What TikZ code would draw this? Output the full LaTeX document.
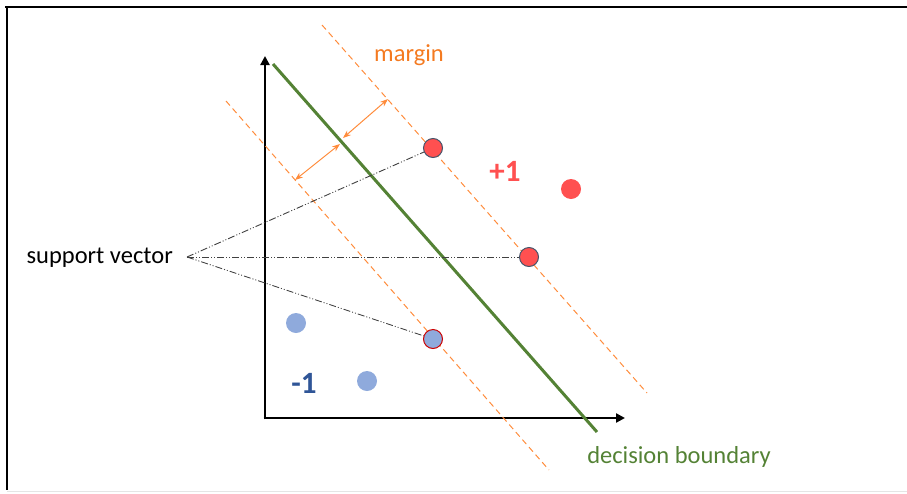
\documentclass[tikz,border=0pt]{standalone}
\usepackage{fontspec}
\setmainfont{Carlito}
\usetikzlibrary{arrows.meta}
\definecolor{redpt}{HTML}{FF5050}
\definecolor{bluept}{HTML}{8FAADC}
\definecolor{svedge}{HTML}{44546A}
\definecolor{orng}{HTML}{FF8C3C}
\definecolor{morange}{HTML}{F47A20}
\definecolor{dgreen}{HTML}{548235}
\definecolor{dblue}{HTML}{2F5597}
\begin{document}
\begin{tikzpicture}[x=1pt,y=-1pt,
  axis/.style={line width=2.6pt,-{Triangle[length=9pt,width=9pt]}},
  boundary/.style={line width=3pt,dgreen},
  marginline/.style={line width=1pt,orng,dash pattern=on 6pt off 4pt},
  marginarrow/.style={line width=1pt,orng,{Stealth[length=8pt,width=6pt]}-{Stealth[length=8pt,width=6pt]}},
  svline/.style={line width=0.9pt,black!75,dash pattern=on 7pt off 2pt on 1pt off 2pt on 1pt off 2pt},
  redsv/.style={circle,fill=redpt,draw=svedge,line width=1pt,minimum size=19pt,inner sep=0pt},
  bluesv/.style={circle,fill=bluept,draw=red!80!black,line width=1pt,minimum size=19pt,inner sep=0pt},
  redpoint/.style={circle,fill=redpt,minimum size=20pt,inner sep=0pt},
  bluepoint/.style={circle,fill=bluept,minimum size=20pt,inner sep=0pt},
  lbl/.style={font=\fontsize{24.5}{28}\selectfont,inner sep=0pt},
  classlbl/.style={font=\fontsize{31}{34}\selectfont\bfseries,inner sep=0pt}
]
\useasboundingbox (0,0) rectangle (907,493);
% frame
\draw[line width=2pt] (5,7) -- (907,7);
\draw[line width=2pt] (7,7) -- (7,490);
\draw[line width=0.8pt,black!10] (7,491.5) -- (907,491.5);

% axes
\coordinate (Ytop) at (265,56);
\coordinate (Xend) at (625,418);
\draw[axis] (265,419.3) -- (Ytop);
\draw[axis] (263.7,418) -- (Xend);

% margin lines
\coordinate (U1) at (322,25);
\coordinate (U2) at (647,393);
\coordinate (L1) at (226,101);
\coordinate (L2) at (549,470);
\draw[marginline] (U1) -- (U2);
\draw[marginline] (L1) -- (L2);

% decision boundary
\coordinate (B1) at (273,64);
\coordinate (B2) at (597,432);
\draw[boundary] (B1) -- (B2);

% margin arrows
\coordinate (ma1) at (295,180);
\coordinate (ma2) at (340,144);
\coordinate (ma3) at (343,138);
\coordinate (ma4) at (388,99);
\draw[marginarrow] (ma1) -- (ma2);
\draw[marginarrow] (ma3) -- (ma4);

% support vector lines (drawn first, points on top)
\coordinate (apex) at (187,257);
\coordinate (p1) at (433,148);
\coordinate (p2) at (529,257);
\coordinate (p3) at (433,339);
\draw[svline] (apex) -- (p1);
\draw[svline] (apex) -- (p2);
\draw[svline] (apex) -- (p3);

% points
\node[redsv] (sv1) at (p1) {};
\node[redsv] (sv2) at (p2) {};
\node[bluesv] (sv3) at (p3) {};
\node[redpoint] (r1) at (571,189) {};
\node[bluepoint] (b1) at (296,323) {};
\node[bluepoint] (b2) at (367,381) {};

% labels
\node[lbl,anchor=east] (svlabel) at (173,258) {support vector};
\node[lbl,text=morange] (marginlabel) at (409,55) {margin};
\node[lbl,text=dgreen] (dblabel) at (679,457) {decision boundary};
\node[classlbl,text=redpt] (plus) at (505,171) {+1};
\node[classlbl,text=dblue] (minus) at (304,383) {-1};
\end{tikzpicture}
\end{document}
